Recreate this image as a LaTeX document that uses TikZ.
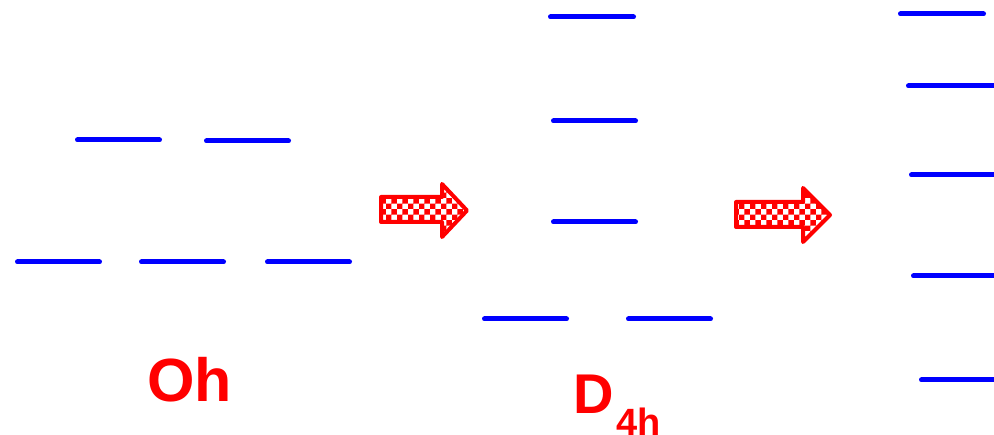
\documentclass[tikz,border=0pt]{standalone}
\usepackage{fontspec}
\setmainfont{Liberation Sans}
\usetikzlibrary{patterns}
\definecolor{lvblue}{RGB}{0,0,255}
\definecolor{lvred}{RGB}{255,0,0}
\tikzset{
  level/.style={draw=lvblue, line width=5pt, line cap=round},
  bigarrow/.style={draw=lvred, line width=4pt, line join=round, fill=white, postaction={pattern=checkerboard, pattern color=lvred}},
  grouplabel/.style={text=lvred, font=\bfseries, inner sep=0pt, anchor=base}
}
\begin{document}
\begin{tikzpicture}[x=1pt,y=-1pt]
\useasboundingbox (0,0) rectangle (994,435);
\clip (0,0) rectangle (994,435);
% Oh levels
\coordinate (a1) at (77.5,140); \coordinate (a2) at (159.5,140);
\coordinate (b1) at (206.5,141); \coordinate (b2) at (288.5,141);
\coordinate (c1) at (17.5,262); \coordinate (c2) at (99.5,262);
\coordinate (d1) at (141.5,262); \coordinate (d2) at (223.5,262);
\coordinate (e1) at (267.5,262); \coordinate (e2) at (349.5,262);
\draw[level] (a1) -- (a2);
\draw[level] (b1) -- (b2);
\draw[level] (c1) -- (c2);
\draw[level] (d1) -- (d2);
\draw[level] (e1) -- (e2);
% D4h levels
\coordinate (f1) at (550.5,17); \coordinate (f2) at (633.5,17);
\coordinate (g1) at (553.5,121); \coordinate (g2) at (635.5,121);
\coordinate (h1) at (553.5,222); \coordinate (h2) at (635.5,222);
\coordinate (i1) at (484.5,319); \coordinate (i2) at (566.5,319);
\coordinate (j1) at (628.5,319); \coordinate (j2) at (710.5,319);
\draw[level] (f1) -- (f2);
\draw[level] (g1) -- (g2);
\draw[level] (h1) -- (h2);
\draw[level] (i1) -- (i2);
\draw[level] (j1) -- (j2);
% right column levels
\coordinate (k1) at (900.5,14); \coordinate (k2) at (983.5,14);
\coordinate (l1) at (908.5,86); \coordinate (l2) at (1000,86);
\coordinate (m1) at (911.5,175); \coordinate (m2) at (1000,175);
\coordinate (n1) at (913.5,276); \coordinate (n2) at (1000,276);
\coordinate (o1) at (921.5,380); \coordinate (o2) at (1000,380);
\draw[level] (k1) -- (k2);
\draw[level] (l1) -- (l2);
\draw[level] (m1) -- (m2);
\draw[level] (n1) -- (n2);
\draw[level] (o1) -- (o2);
% arrows
\draw[bigarrow] (381,197) -- (442,197) -- (442,184) -- (467,210.5) -- (442,237) -- (442,222) -- (381,222) -- cycle;
\draw[bigarrow] (736,202) -- (803,202) -- (803,188) -- (830,215) -- (803,242) -- (803,227) -- (736,227) -- cycle;
% labels
\node[grouplabel, font=\bfseries\fontsize{61}{61}\selectfont] (oh) at (189.5,402) {Oh};
\node[grouplabel, font=\bfseries\fontsize{56}{56}\selectfont, anchor=base west] (d4h) at (573,414) {D};
\node[grouplabel, font=\bfseries\fontsize{38}{38}\selectfont, anchor=base west] (sub) at (616,435.5) {4h};
\end{tikzpicture}
\end{document}
